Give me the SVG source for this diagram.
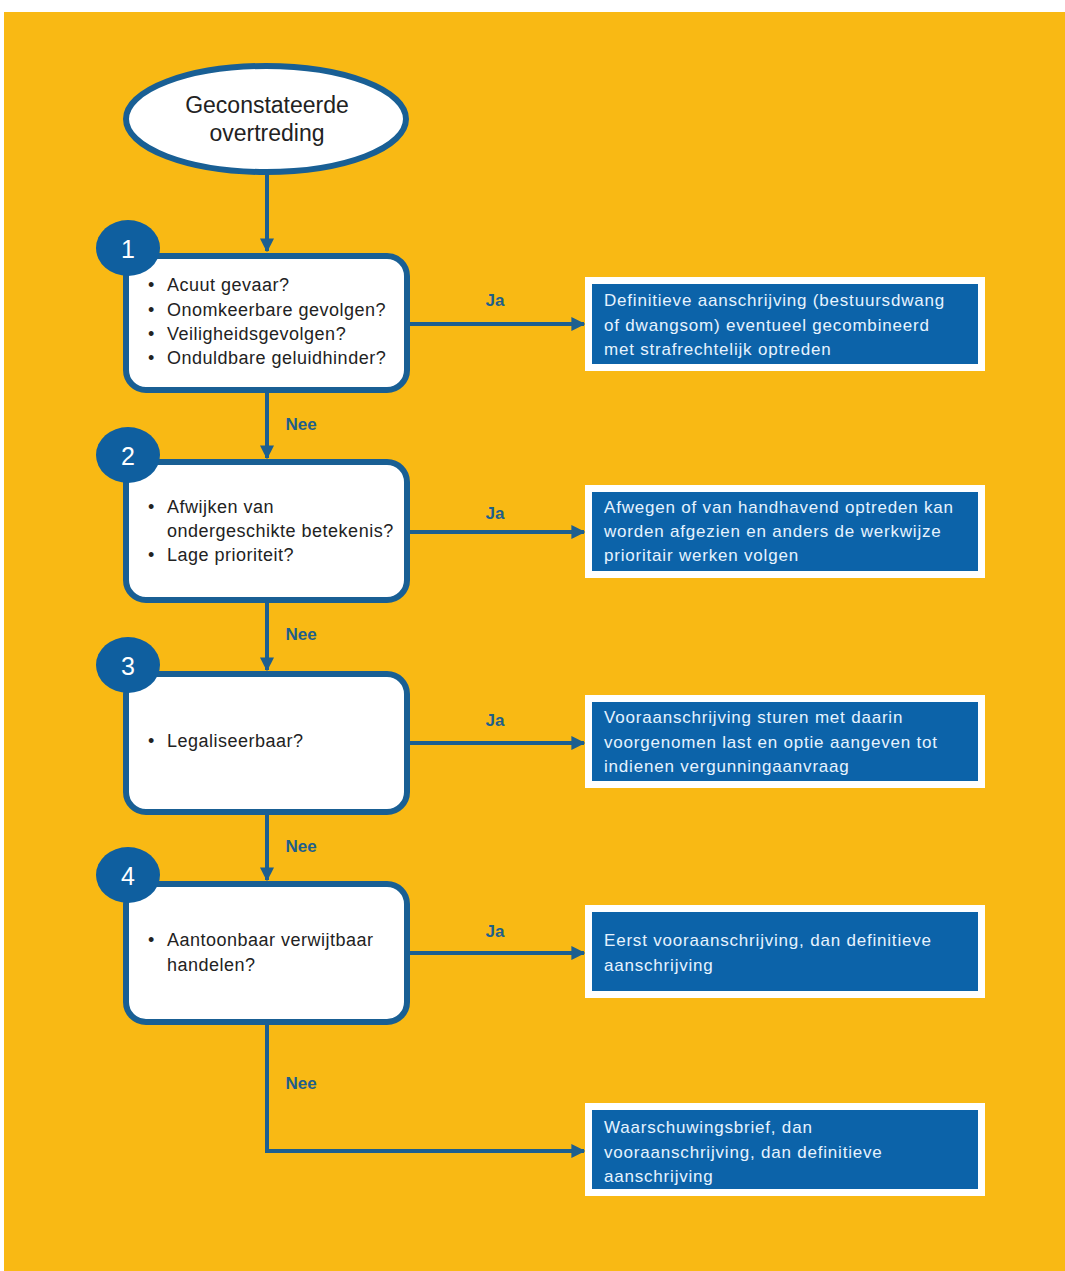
<svg xmlns="http://www.w3.org/2000/svg" width="1065" height="1271" viewBox="0 0 1065 1271">
<defs>
<style>
.q{fill:#fff;stroke:#195f94;stroke-width:6}
.num{fill:#0f5f9f}
.numt{font-family:"Liberation Sans",Arial,sans-serif;font-size:25px;fill:#fff;text-anchor:middle}
.qt{font-family:"Liberation Sans",Arial,sans-serif;font-size:18px;fill:#222;letter-spacing:0.5px}
.ro{fill:#fff}
.ri{fill:#0c63a9}
.rt{font-family:"Liberation Sans",Arial,sans-serif;font-size:17px;fill:#e6f3ff;letter-spacing:0.8px}
.lbl{font-family:"Liberation Sans",Arial,sans-serif;font-size:17px;font-weight:bold;fill:#1f5f8b;text-anchor:middle}
.c{fill:none;stroke:#1d5f8f;stroke-width:4}
</style>
<marker id="ah" viewBox="0 0 10 10" refX="9" refY="5" markerWidth="3.5" markerHeight="3.5" orient="auto" markerUnits="strokeWidth">
<path d="M0,0 L10,5 L0,10 z" fill="#1d5f8f"/>
</marker>
</defs>
<rect x="0" y="0" width="1065" height="1271" fill="#fff"/>
<rect x="4" y="12" width="1061" height="1259" fill="#f9b914"/>

<g id="connectors">
<line class="c" x1="267" y1="174" x2="267" y2="251" marker-end="url(#ah)"/>
<line class="c" x1="267" y1="392" x2="267" y2="458" marker-end="url(#ah)"/>
<line class="c" x1="267" y1="603" x2="267" y2="670" marker-end="url(#ah)"/>
<line class="c" x1="267" y1="815" x2="267" y2="880" marker-end="url(#ah)"/>
<polyline class="c" points="267,1025 267,1151 584,1151" marker-end="url(#ah)"/>
<line class="c" x1="408" y1="324" x2="584" y2="324" marker-end="url(#ah)"/>
<line class="c" x1="408" y1="532" x2="584" y2="532" marker-end="url(#ah)"/>
<line class="c" x1="408" y1="743" x2="584" y2="743" marker-end="url(#ah)"/>
<line class="c" x1="408" y1="953" x2="584" y2="953" marker-end="url(#ah)"/>
<text class="lbl" x="495" y="306">Ja</text>
<text class="lbl" x="495" y="519">Ja</text>
<text class="lbl" x="495" y="726">Ja</text>
<text class="lbl" x="495" y="937">Ja</text>
<text class="lbl" x="301" y="430">Nee</text>
<text class="lbl" x="301" y="640">Nee</text>
<text class="lbl" x="301" y="852">Nee</text>
<text class="lbl" x="301" y="1089">Nee</text>
</g>

<g id="start">
<ellipse cx="266" cy="119" rx="140" ry="53" fill="#fff" stroke="#195f94" stroke-width="6"/>
<text font-family="'Liberation Sans',Arial,sans-serif" font-size="23" fill="#222" text-anchor="middle" x="267" y="113">Geconstateerde</text>
<text font-family="'Liberation Sans',Arial,sans-serif" font-size="23" fill="#222" text-anchor="middle" x="267" y="141">overtreding</text>
</g>

<g id="q1">
<rect class="q" x="126" y="256" width="281" height="134" rx="20"/>
<ellipse class="num" cx="128" cy="248" rx="32" ry="28"/>
<text class="numt" x="128" y="258">1</text>
<text class="qt" x="148" y="291">•</text><text class="qt" x="167" y="291">Acuut gevaar?</text>
<text class="qt" x="148" y="316">•</text><text class="qt" x="167" y="316">Onomkeerbare gevolgen?</text>
<text class="qt" x="148" y="340">•</text><text class="qt" x="167" y="340">Veiligheidsgevolgen?</text>
<text class="qt" x="148" y="364">•</text><text class="qt" x="167" y="364">Onduldbare geluidhinder?</text>
</g>

<g id="q2">
<rect class="q" x="126" y="462" width="281" height="138" rx="20"/>
<ellipse class="num" cx="128" cy="455" rx="32" ry="28"/>
<text class="numt" x="128" y="465">2</text>
<text class="qt" x="148" y="513">•</text><text class="qt" x="167" y="513">Afwijken van</text>
<text class="qt" x="167" y="537">ondergeschikte betekenis?</text>
<text class="qt" x="148" y="561">•</text><text class="qt" x="167" y="561">Lage prioriteit?</text>
</g>

<g id="q3">
<rect class="q" x="126" y="674" width="281" height="138" rx="20"/>
<ellipse class="num" cx="128" cy="665" rx="32" ry="28"/>
<text class="numt" x="128" y="675">3</text>
<text class="qt" x="148" y="747">•</text><text class="qt" x="167" y="747">Legaliseerbaar?</text>
</g>

<g id="q4">
<rect class="q" x="126" y="884" width="281" height="138" rx="20"/>
<ellipse class="num" cx="128" cy="875" rx="32" ry="28"/>
<text class="numt" x="128" y="885">4</text>
<text class="qt" x="148" y="946">•</text><text class="qt" x="167" y="946">Aantoonbaar verwijtbaar</text>
<text class="qt" x="167" y="971">handelen?</text>
</g>

<g id="r1">
<rect class="ro" x="585" y="277" width="400" height="94"/>
<rect class="ri" x="592" y="284" width="386" height="80"/>
<text class="rt" x="604" y="306">Definitieve aanschrijving (bestuursdwang</text>
<text class="rt" x="604" y="331">of dwangsom) eventueel gecombineerd</text>
<text class="rt" x="604" y="355">met strafrechtelijk optreden</text>
</g>

<g id="r2">
<rect class="ro" x="585" y="485" width="400" height="93"/>
<rect class="ri" x="592" y="492" width="386" height="79"/>
<text class="rt" x="604" y="513">Afwegen of van handhavend optreden kan</text>
<text class="rt" x="604" y="537">worden afgezien en anders de werkwijze</text>
<text class="rt" x="604" y="561">prioritair werken volgen</text>
</g>

<g id="r3">
<rect class="ro" x="585" y="695" width="400" height="93"/>
<rect class="ri" x="592" y="702" width="386" height="79"/>
<text class="rt" x="604" y="723">Vooraanschrijving sturen met daarin</text>
<text class="rt" x="604" y="748">voorgenomen last en optie aangeven tot</text>
<text class="rt" x="604" y="772">indienen vergunningaanvraag</text>
</g>

<g id="r4">
<rect class="ro" x="585" y="905" width="400" height="93"/>
<rect class="ri" x="592" y="912" width="386" height="79"/>
<text class="rt" x="604" y="946">Eerst vooraanschrijving, dan definitieve</text>
<text class="rt" x="604" y="971">aanschrijving</text>
</g>

<g id="r5">
<rect class="ro" x="585" y="1103" width="400" height="93"/>
<rect class="ri" x="592" y="1110" width="386" height="79"/>
<text class="rt" x="604" y="1133">Waarschuwingsbrief, dan</text>
<text class="rt" x="604" y="1158">vooraanschrijving, dan definitieve</text>
<text class="rt" x="604" y="1182">aanschrijving</text>
</g>
</svg>
